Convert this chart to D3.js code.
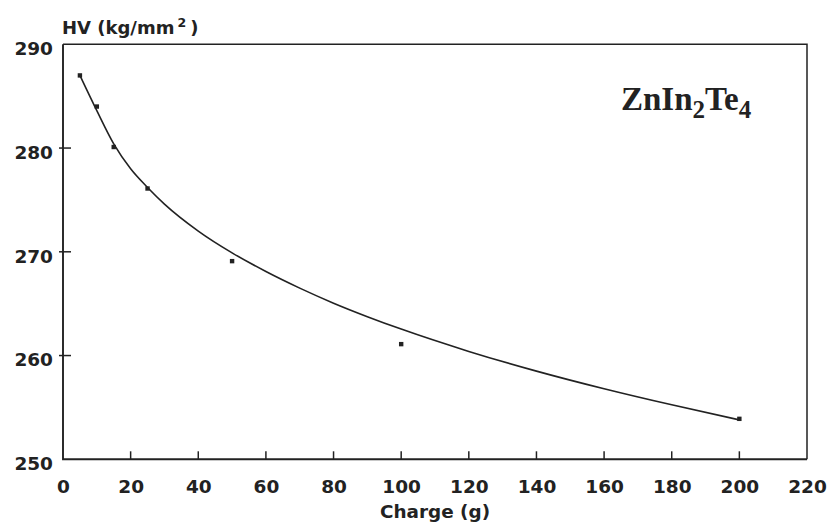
<!DOCTYPE html>
<html>
<head>
<meta charset="utf-8">
<script src="https://cdn.jsdelivr.net/npm/d3@7/dist/d3.min.js"></script>
<style>
  html, body { margin: 0; padding: 0; background: #fff; }
  svg { display: block; }
  text { font-family: "DejaVu Sans", sans-serif; font-weight: bold; fill: #222; }
</style>
</head>
<body>
<svg id="chart" width="832" height="528"></svg>
<script>
// Measured microhardness vs. indenter load
const loads = [5, 10, 15, 25, 50, 100, 200];
const hardness = [287.0, 284.0, 280.1, 276.1, 269.1, 261.1, 253.9];

// Fitted trend line through the measurements
const fitLoads = [5, 10, 15, 20, 25, 30, 40, 50, 60, 70, 80, 90, 100, 120, 140, 160, 180, 200];
const fitHardness = [287.0, 283.6, 280.4, 278.0, 276.2, 274.6, 272.0, 269.9, 268.1, 266.5, 265.05, 263.75, 262.55, 260.4, 258.5, 256.8, 255.25, 253.8];

const xTicks = [0, 20, 40, 60, 80, 100, 120, 140, 160, 180, 200, 220];
const yTicks = [250, 260, 270, 280, 290];

const svg = d3.select("#chart");
const ink = "#222";

const x = d3.scaleLinear().domain([0, 220]).range([63, 807]);
const y = d3.scaleLinear().domain([250, 290]).range([459.3, 44.3]);

// Frame: heavier left and bottom axes, lighter top and right edges
svg.append("path")
  .attr("d", `M${x(0)},${y(290)}H${x(220)}V${y(250)}`)
  .attr("fill", "none").attr("stroke", ink).attr("stroke-width", 1.5);
svg.append("path")
  .attr("d", `M${x(0)},${y(290)}V${y(250)}H${x(220)}`)
  .attr("fill", "none").attr("stroke", ink).attr("stroke-width", 1.9);

// Bottom axis labels
const xAxis = d3.axisBottom(x).tickValues(xTicks).tickSize(0).tickPadding(0);
const gx = svg.append("g").attr("transform", `translate(0,${y(250)})`).call(xAxis);
gx.select(".domain").remove();
gx.selectAll("text")
  .attr("y", 34).attr("dy", null)
  .style("font-size", "18.5px").style("font-family", "DejaVu Sans, sans-serif")
  .style("font-weight", "bold").attr("fill", ink);

// Inward ticks on the bottom axis
svg.append("g").selectAll("line")
  .data(xTicks.filter(v => v > 0 && v < 220))
  .join("line")
  .attr("x1", d => x(d)).attr("x2", d => x(d))
  .attr("y1", y(250)).attr("y2", y(250) - 8)
  .attr("stroke", ink).attr("stroke-width", 1.5);

// Left axis labels
const yAxis = d3.axisLeft(y).tickValues(yTicks).tickSize(0).tickPadding(0);
const gy = svg.append("g").attr("transform", `translate(${x(0)},0)`).call(yAxis);
gy.select(".domain").remove();
gy.selectAll("text")
  .attr("x", -10).attr("dy", "0.56em")
  .style("font-size", "18.5px").style("font-family", "DejaVu Sans, sans-serif")
  .style("font-weight", "bold").attr("fill", ink);

// Ticks crossing the left axis
svg.append("g").selectAll("line")
  .data(yTicks.filter(v => v > 250 && v < 290))
  .join("line")
  .attr("x1", x(0) - 4).attr("x2", x(0) + 8)
  .attr("y1", d => y(d)).attr("y2", d => y(d))
  .attr("stroke", ink).attr("stroke-width", 1.5);

// Fitted curve
const line = d3.line()
  .x((d, i) => x(fitLoads[i]))
  .y(d => y(d))
  .curve(d3.curveMonotoneX);
svg.append("path")
  .datum(fitHardness)
  .attr("d", line)
  .attr("fill", "none").attr("stroke", ink).attr("stroke-width", 1.6);

// Data points
svg.append("g").selectAll("rect")
  .data(loads)
  .join("rect")
  .attr("x", d => x(d) - 2.2).attr("y", (d, i) => y(hardness[i]) - 2.2)
  .attr("width", 4.4).attr("height", 4.4)
  .attr("fill", ink);

// Axis titles
const yTitle = svg.append("text").attr("x", 62).attr("y", 33.5).style("font-size", "18px");
yTitle.append("tspan").text("HV (kg/mm");
yTitle.append("tspan").attr("dx", 3).attr("dy", -7).style("font-size", "12.5px").text("2");
yTitle.append("tspan").attr("dx", 4).attr("dy", 7).text(")");

svg.append("text")
  .attr("x", (x(0) + x(220)) / 2).attr("y", 518)
  .attr("text-anchor", "middle").style("font-size", "18.4px")
  .text("Charge (g)");

// Compound label
const label = svg.append("text")
  .attr("x", 621).attr("y", 110)
  .style("font-family", "'Liberation Serif', 'Times New Roman', serif")
  .style("font-size", "33px").attr("fill", "#222");
label.append("tspan").text("ZnIn");
label.append("tspan").attr("dy", 8).style("font-size", "25px").text("2");
label.append("tspan").attr("dy", -8).text("Te");
label.append("tspan").attr("dy", 8).style("font-size", "25px").text("4");
</script>
</body>
</html>
